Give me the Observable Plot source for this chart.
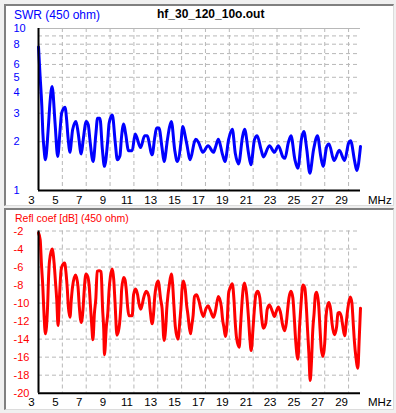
<!DOCTYPE html>
<html><head><meta charset="utf-8">
<script src="https://cdn.jsdelivr.net/npm/d3@7"></script>
<script src="https://cdn.jsdelivr.net/npm/@observablehq/plot@0.6"></script>
<style>
html,body{margin:0;padding:0;background:#f0f0f0;}
#wrap{position:relative;width:396px;height:413px;overflow:hidden;background:#f0f0f0;font-family:"Liberation Sans",Arial,sans-serif;}
.panel{position:absolute;left:4px;width:387px;background:#fff;border-top:2px solid #808080;border-left:2px solid #808080;border-right:1px solid #dcdcdc;border-bottom:1px solid #dcdcdc;}
.chart{position:absolute;left:0;}
.lbl{position:absolute;font-size:10.5px;white-space:nowrap;line-height:1;}
</style></head>
<body>
<div id="wrap">
  <div class="panel" style="top:4px;height:199px;"></div>
  <div class="panel" style="top:208px;height:199px;"></div>
  <div id="c1" class="chart" style="top:0px;"></div>
  <div id="c2" class="chart" style="top:207px;"></div>
  <div class="lbl" style="left:14px;top:9px;color:#0000ff;font-size:12px;">SWR (450 ohm)</div>
  <div class="lbl" style="left:157px;top:8px;color:#000;font-weight:bold;font-size:12px;">hf_30_120_10o.out</div>
  <div class="lbl" style="left:15px;top:213px;color:#ff0000;font-size:10.5px;">Refl coef [dB] (450 ohm)</div>
  <div class="lbl" style="left:368px;top:195px;color:#000;font-size:11.5px;">MHz</div>
  <div class="lbl" style="left:368px;top:397px;color:#000;font-size:11.5px;">MHz</div>
</div>
<script>
// ---- data ----
const freqTicks = [3,5,7,9,11,13,15,17,19,21,23,25,27,29];
const freqGrid = [5,7,9,11,13,15,17,19,21,23,25,27,29];
const swrTicks = [1,2,3,4,5,6,8,10];
const swrGrid = [2,3,4,5,6,7,8,9];
const dbTicks = [-2,-4,-6,-8,-10,-12,-14,-16,-18,-20];
const dbGrid = [-2,-4,-6,-8,-10,-12,-14,-16,-18];

const swrFreq = [3.00,3.14,3.28,3.36,3.47,3.58,3.81,3.97,4.14,4.39,
  4.61,4.81,4.94,5.22,5.36,5.47,5.65,5.75,5.86,6.14,
  6.33,6.58,6.75,7.00,7.17,7.31,7.58,7.81,7.95,8.15,
  8.36,8.53,8.81,8.92,9.19,9.44,9.61,9.83,9.95,10.14,
  10.31,10.55,10.85,11.11,11.56,11.90,12.10,12.53,12.75,12.90,
  13.10,13.36,13.53,13.81,13.97,14.14,14.42,14.64,14.97,15.08,
  15.42,15.72,16.08,16.19,16.42,16.78,17.22,17.67,17.83,18.08,
  18.44,18.64,18.94,19.25,19.50,19.78,20.11,20.28,20.61,20.81,
  21.11,21.33,21.67,21.86,22.36,22.78,23.11,23.50,23.67,23.94,
  24.17,24.50,24.75,25.06,25.25,25.50,25.75,26.06,26.39,26.67,
  26.86,27.17,27.36,27.78,28.22,28.67,29.00,29.17,29.50,29.69,
  30.00];
const swrValue = [7.7,5.0,3.3,2.3,1.78,1.55,2.37,3.54,4.39,2.6,
  1.62,2.37,3.0,3.27,2.73,2.15,1.72,2.0,2.37,2.67,
  2.26,1.68,2.06,2.67,2.55,2.06,1.51,2.23,2.79,2.79,
  1.78,1.41,2.06,2.6,2.92,1.96,1.55,1.64,2.1,2.57,
  2.23,1.76,1.76,2.23,1.84,2.18,2.18,1.66,2.13,2.43,
  2.43,1.83,1.51,2.06,2.43,2.67,1.78,1.51,2.06,2.48,
  1.96,1.55,2.0,2.07,1.98,1.72,1.89,1.72,1.84,2.07,
  1.66,1.51,2.06,2.39,1.70,1.46,2.15,2.39,1.70,1.44,
  2.06,2.18,1.78,1.61,1.89,1.72,1.89,1.61,1.58,1.96,
  2.18,1.55,1.37,2.10,2.31,1.78,1.28,1.78,2.18,1.62,
  1.41,1.87,1.94,1.53,1.77,1.53,1.96,2.03,1.53,1.33,
  1.87];

const reflFreq = [3.00,3.14,3.25,3.36,3.47,3.58,3.75,3.86,3.92,4.14,
  4.31,4.42,4.53,4.64,4.75,4.81,4.92,5.19,5.31,5.42,
  5.50,5.64,5.75,5.86,6.11,6.31,6.42,6.58,6.75,6.81,
  6.97,7.14,7.25,7.36,7.47,7.56,7.69,7.81,7.92,8.08,
  8.25,8.31,8.36,8.47,8.53,8.69,8.81,8.92,9.03,9.19,
  9.31,9.42,9.58,9.75,9.92,9.97,10.14,10.25,10.36,10.47,
  10.58,10.86,10.97,11.14,11.31,11.42,11.58,11.69,11.81,12.03,
  12.25,12.36,12.53,12.64,12.75,12.86,13.03,13.25,13.36,13.53,
  13.69,13.75,13.86,13.97,14.14,14.25,14.36,14.47,14.69,14.86,
  14.97,15.03,15.14,15.31,15.42,15.53,15.64,15.75,15.86,15.97,
  16.08,16.25,16.42,16.81,17.06,17.22,17.39,17.67,17.83,18.08,
  18.33,18.44,18.56,18.67,18.83,18.94,19.06,19.25,19.39,19.50,
  19.61,19.83,19.94,20.06,20.17,20.28,20.44,20.61,20.72,20.83,
  21.00,21.11,21.22,21.39,21.56,21.67,21.86,22.06,22.17,22.36,
  22.61,22.78,22.94,23.11,23.33,23.44,23.64,23.78,23.89,24.00,
  24.17,24.33,24.44,24.56,24.75,24.89,25.00,25.17,25.33,25.44,
  25.56,25.67,25.78,25.89,26.00,26.11,26.22,26.33,26.50,26.61,
  26.72,26.86,27.00,27.11,27.22,27.36,27.50,27.61,27.81,28.00,
  28.11,28.22,28.39,28.50,28.67,28.83,28.94,29.14,29.28,29.39,
  29.50,29.61,29.78,29.89,30.00];
const reflDb = [-2.22,-2.96,-5.74,-8.15,-11.48,-13.41,-10.74,-6.67,-5.37,-4.0,
  -5.56,-7.59,-9.63,-12.48,-9.63,-7.96,-6.11,-5.56,-6.67,-8.52,
  -10.37,-11.56,-9.63,-8.15,-6.89,-8.15,-10.37,-12.15,-10.37,-9.07,
  -6.78,-7.11,-8.15,-10.37,-12.59,-14.07,-11.11,-9.44,-6.48,-6.41,
  -6.5,-8.15,-10.19,-12.96,-15.74,-12.59,-11.11,-8.52,-7.04,-6.22,
  -7.41,-10.0,-13.56,-12.78,-10.0,-8.52,-7.15,-7.41,-8.52,-10.37,
  -11.41,-11.41,-9.07,-8.44,-9.07,-10.0,-10.67,-10.19,-9.44,-8.7,
  -9.26,-10.74,-12.3,-11.3,-9.26,-8.15,-7.56,-9.63,-10.56,-14.15,
  -12.22,-10.74,-9.07,-7.96,-6.78,-7.96,-10.37,-12.59,-14.0,-11.85,
  -10.0,-8.52,-7.56,-8.52,-10.19,-11.3,-12.59,-13.41,-12.41,-11.3,
  -9.26,-9.07,-9.6,-11.48,-10.56,-10.3,-10.74,-11.56,-10.93,-9.26,
  -10.37,-11.85,-12.78,-13.7,-11.85,-8.89,-8.33,-7.85,-9.63,-12.22,
  -13.89,-14.89,-12.59,-10.0,-8.33,-7.78,-8.89,-11.67,-13.89,-15.26,
  -12.59,-10.56,-9.07,-8.7,-9.44,-11.11,-12.78,-12.22,-10.74,-10.22,
  -10.93,-11.48,-10.93,-10.44,-11.3,-12.22,-13.07,-12.22,-10.74,-9.44,
  -8.7,-9.44,-11.48,-14.07,-16.22,-12.59,-10.37,-8.0,-8.33,-10.0,
  -12.96,-15.56,-18.59,-16.48,-12.96,-11.11,-9.07,-8.81,-10.37,-12.96,
  -15.19,-15.93,-14.44,-11.48,-10.37,-9.93,-10.74,-12.22,-13.52,-12.59,
  -11.11,-11.04,-11.48,-12.41,-13.63,-11.85,-10.56,-9.33,-10.0,-12.22,
  -14.44,-15.93,-17.22,-14.07,-10.56];

// ---- build ----
const swrData = swrFreq.map((f,i)=>({f, v: swrValue[i]}));
const reflData = reflFreq.map((f,i)=>({f, v: reflDb[i]}));
const FONT = "'Liberation Sans', Arial, sans-serif";
const gridStyle = {stroke:"#b8b8b8", strokeWidth:1, strokeDasharray:"4,3"};

function panel({data, yScale, yGrid, yTicks, yTop, color, height, marginTop, marginBottom, topSolid}) {
  return Plot.plot({
    width: 396, height, marginLeft: 38, marginRight: 36, marginTop, marginBottom,
    style: {background:"none", overflow:"visible", fontFamily: FONT},
    x: {domain:[3,30], axis:null},
    y: {...yScale, axis:null},
    marks: [
      Plot.ruleX(freqGrid, gridStyle),
      Plot.ruleY(yGrid, gridStyle),
      topSolid ? Plot.ruleY([yTop], {stroke:"#b8b8b8", strokeWidth:1.2}) : null,
      Plot.line(data, {x:"f", y:"v", stroke:color, strokeWidth:3, curve:"monotone-x", strokeLinejoin:"round"}),
      Plot.ruleX([3], {stroke:"#000", strokeWidth:2}),
      Plot.ruleY([yScale.domain[0]], {stroke:"#000", strokeWidth:2}),
      Plot.axisX(freqTicks, {anchor:"bottom", tickSize:0, tickPadding:5, dx:-7, fontSize:11.5, fill:"#000", label:null, tickFormat:d=>String(d)}),
      Plot.text(yTicks, {y:d=>d, text:d=>String(d), frameAnchor:"left", textAnchor:"start", dx:-25, fontSize:11, fill:color})
    ].filter(Boolean)
  });
}

document.getElementById("c1").append(panel({
  data: swrData, yScale: {type:"log", domain:[1,10]}, yGrid: swrGrid, yTicks: swrTicks, yTop:10,
  color:"#0000ff", height:207, marginTop:28, marginBottom:17, topSolid:true
}));
document.getElementById("c2").append(panel({
  data: reflData, yScale: {domain:[-20,-2]}, yGrid: dbGrid, yTicks: dbTicks, yTop:-2,
  color:"#ff0000", height:206, marginTop:23.5, marginBottom:20.3, topSolid:false
}));
</script>
</body></html>
